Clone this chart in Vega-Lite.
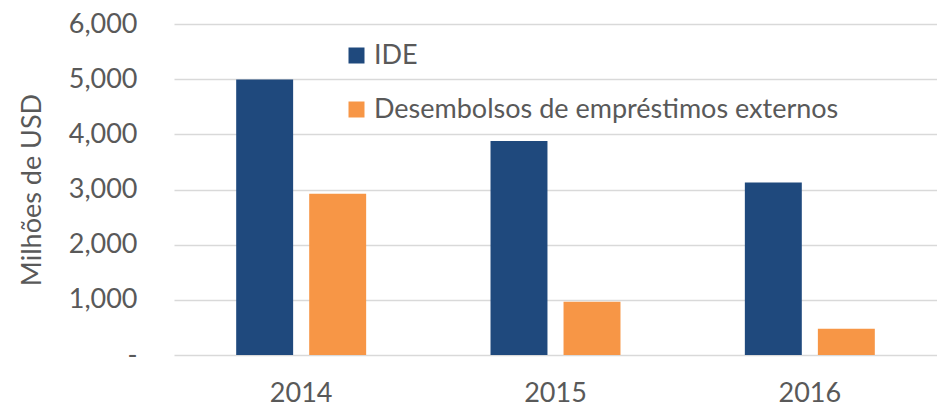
{
  "$schema": "https://vega.github.io/schema/vega-lite/v6.json",
  "width": 763,
  "height": 331,
  "autosize": {"type": "none"},
  "padding": {"left": 174, "top": 24, "right": 0, "bottom": 56},
  "background": "white",
  "config": {
    "view": {"stroke": null},
    "font": "Lato"
  },
  "data": {
    "values": [
      {"year": "2014", "series": "IDE", "value": 4995},
      {"year": "2014", "series": "Desembolsos de empréstimos externos", "value": 2923},
      {"year": "2015", "series": "IDE", "value": 3880},
      {"year": "2015", "series": "Desembolsos de empréstimos externos", "value": 963},
      {"year": "2016", "series": "IDE", "value": 3128},
      {"year": "2016", "series": "Desembolsos de empréstimos externos", "value": 474}
    ]
  },
  "mark": {"type": "bar"},
  "encoding": {
    "x": {
      "field": "year",
      "type": "nominal",
      "scale": {"paddingInner": 0.489, "paddingOuter": 0.2445},
      "axis": {
        "title": null,
        "labelAngle": 0,
        "labelFontSize": 27,
        "labelColor": "#595959",
        "labelPadding": 25,
        "ticks": false,
        "domain": false,
        "grid": false
      }
    },
    "xOffset": {
      "field": "series",
      "type": "nominal",
      "scale": {"domain": ["IDE", "Desembolsos de empréstimos externos"], "paddingInner": 0.22, "paddingOuter": 0}
    },
    "y": {
      "field": "value",
      "type": "quantitative",
      "scale": {"domain": [0, 6000], "nice": false},
      "axis": {
        "title": "Milhões de USD",
        "titleFontSize": 27,
        "titleFontWeight": "normal",
        "titleColor": "#595959",
        "titlePadding": 22,
        "values": [0, 1000, 2000, 3000, 4000, 5000, 6000],
        "labelExpr": "datum.value == 0 ? '-\u00a0\u00a0' : format(datum.value, ',')",
        "labelFontSize": 27,
        "labelColor": "#595959",
        "labelPadding": 37,
        "ticks": false,
        "domain": false,
        "grid": true,
        "gridColor": "#d9d9d9",
        "gridWidth": 1.5
      }
    },
    "color": {
      "field": "series",
      "type": "nominal",
      "scale": {"domain": ["IDE", "Desembolsos de empréstimos externos"], "range": ["#1f497d", "#f79646"]},
      "legend": {
        "title": null,
        "orient": "none",
        "legendX": 169,
        "legendY": 18,
        "symbolType": "square",
        "symbolSize": 256,
        "symbolStrokeWidth": 0,
        "labelFontSize": 27,
        "labelColor": "#595959",
        "labelOffset": 4,
        "rowPadding": 26,
        "labelLimit": 600
      }
    }
  }
}
